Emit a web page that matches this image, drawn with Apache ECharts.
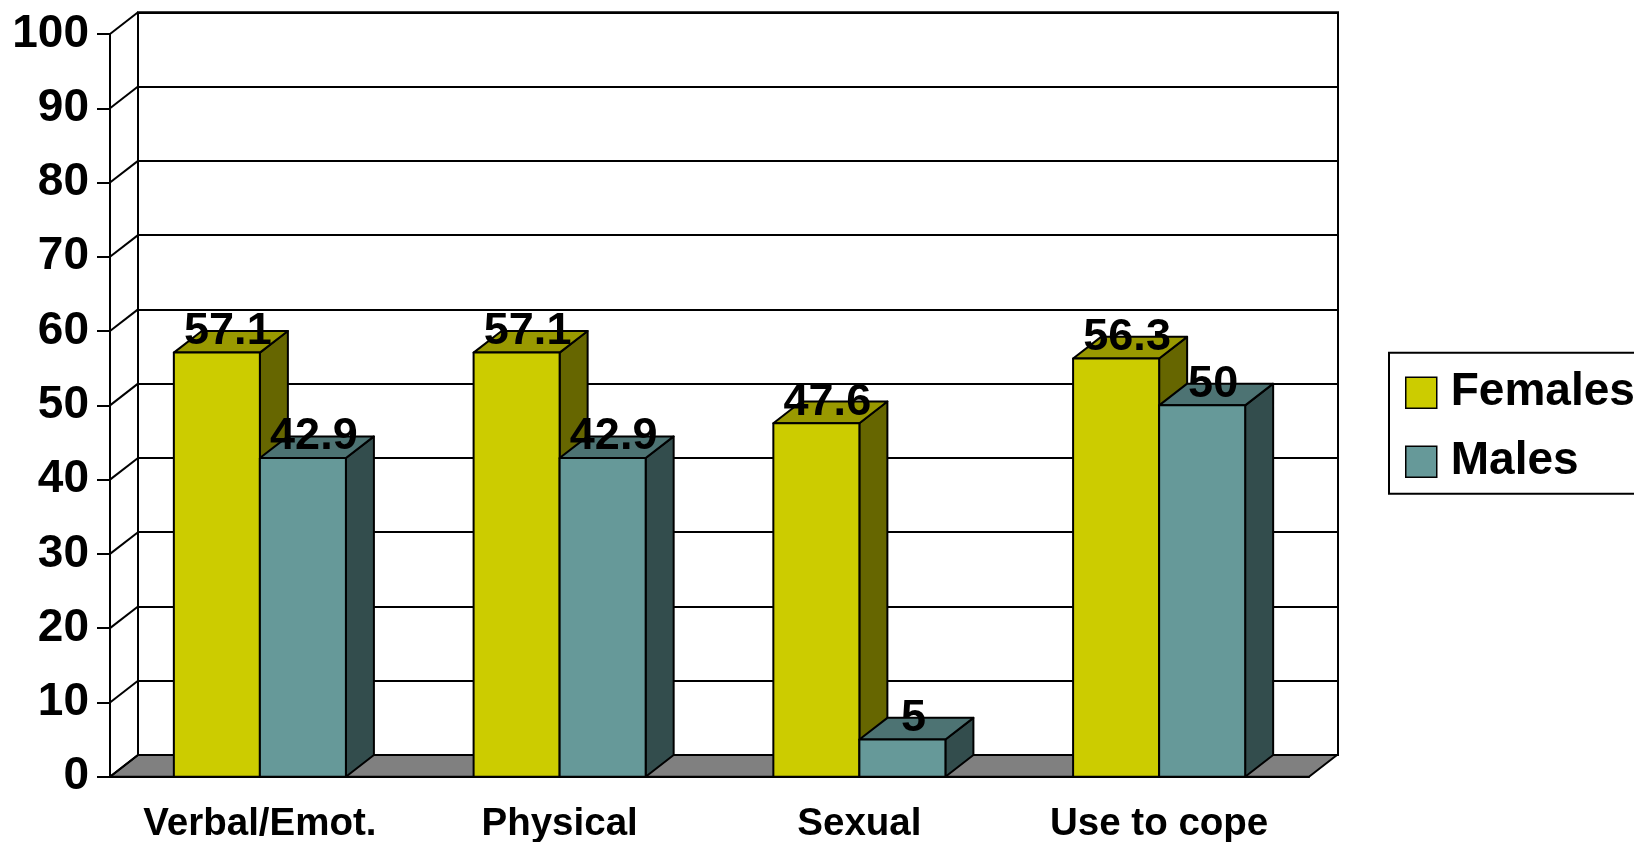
<!DOCTYPE html>
<html lang="en">
<head>
  <meta charset="UTF-8">
  <title>Females vs Males</title>
  <script src="https://cdn.jsdelivr.net/npm/echarts@6/dist/echarts.min.js"></script>
  <style>
    html, body { margin: 0; padding: 0; background: #fff; }
    #chart { width: 1634px; height: 842px; }
  </style>
</head>
<body>
  <div id="chart"></div>
  <script>
    // data
    var categories = ['Verbal/Emot.', 'Physical', 'Sexual', 'Use to cope'];
    var females = [57.1, 57.1, 47.6, 56.3];
    var males = [42.9, 42.9, 5, 50];
    var yTicks = [0, 10, 20, 30, 40, 50, 60, 70, 80, 90, 100];

    // depth offset of the fake 3D box (pixels)
    var DX = 28, DY = 21.7;
    var FONT = '"Liberation Sans", Arial, sans-serif';
    var LINE = { stroke: '#000', lineWidth: 2, lineJoin: 'round' };

    function st(fill) {
      return Object.assign({ fill: fill }, LINE);
    }

    // draws one box: front, top, side + value label
    function barRenderer(side, colors) {
      return function (params, api) {
        var idx = api.value(0);
        var val = api.value(1);
        var base = api.coord([idx, 0]);
        var top = api.coord([idx, val]);
        var band = api.size([1, 0])[0];
        var w = band * 0.287;
        var x0 = side < 0 ? base[0] - w : base[0];
        var x1 = x0 + w;
        var yb = base[1], yt = top[1];
        return {
          type: 'group',
          children: [
            { type: 'polygon', shape: { points: [[x1, yb], [x1 + DX, yb - DY], [x1 + DX, yt - DY], [x1, yt]] }, style: st(colors[2]) },
            { type: 'polygon', shape: { points: [[x0, yt], [x1, yt], [x1 + DX, yt - DY], [x0 + DX, yt - DY]] }, style: st(colors[1]) },
            { type: 'rect', shape: { x: x0, y: yt, width: w, height: yb - yt }, style: st(colors[0]) },
            { type: 'text', z2: 10, style: {
                text: String(val), x: (x0 + x1) / 2 + 11, y: yt - 21,
                align: 'center', verticalAlign: 'middle',
                font: 'bold 45px ' + FONT, fill: '#000'
            } }
          ]
        };
      };
    }

    var chart = echarts.init(document.getElementById('chart'));

    var option = {
      animation: false,
      backgroundColor: '#fff',
      grid: [
        { left: 110, right: 325, top: 34, bottom: 65.3, outerBoundsMode: 'none' },
        // back wall
        { left: 138, right: 296, top: 12.3, bottom: 87, outerBoundsMode: 'none', show: true, borderColor: '#000', borderWidth: 2 }
      ],
      xAxis: [
        {
          type: 'category', data: categories, gridIndex: 0,
          axisLine: { lineStyle: { color: '#000', width: 2 } },
          axisTick: { length: 12, interval: 0, lineStyle: { color: '#000', width: 2 } },
          axisLabel: { interval: 0, margin: 28, color: '#000', fontSize: 38.5, fontWeight: 'bold', fontFamily: FONT },
          splitLine: { show: false }
        },
        { type: 'category', data: categories, gridIndex: 1, show: false }
      ],
      yAxis: [
        {
          type: 'value', min: 0, max: 100, interval: 10, gridIndex: 0,
          axisLine: { show: true, lineStyle: { color: '#000', width: 2 } },
          axisTick: { show: true, length: 13, lineStyle: { color: '#000', width: 2 } },
          axisLabel: { margin: 21, color: '#000', fontSize: 46, fontWeight: 'bold', fontFamily: FONT },
          splitLine: { show: false }
        },
        {
          type: 'value', min: 0, max: 100, interval: 10, gridIndex: 1,
          axisLine: { show: false }, axisTick: { show: false }, axisLabel: { show: false },
          splitLine: { show: true, lineStyle: { color: '#000', width: 2 } }
        }
      ],
      legend: {
        data: ['Females', 'Males'],
        orient: 'vertical',
        left: 1389, top: 352.7,
        backgroundColor: '#fff',
        borderColor: '#000', borderWidth: 2,
        padding: [17, 16, 9, 16],
        itemWidth: 31, itemHeight: 31, itemGap: 23,
        icon: 'rect',
        selectedMode: false,
        itemStyle: { borderColor: '#000', borderWidth: 1.5 },
        textStyle: { fontSize: 46, fontWeight: 'bold', fontFamily: FONT, color: '#000', padding: [4, 0, 0, 9] }
      },
      series: [
        {
          // floor
          type: 'custom', silent: true, xAxisIndex: 0, yAxisIndex: 0,
          data: [[0, 0]], encode: { x: 0, y: 1 },
          renderItem: function (params, api) {
            var band = api.size([1, 0])[0];
            var l = api.coord([0, 0]);
            var r = api.coord([categories.length - 1, 0]);
            var xl = l[0] - band / 2, xr = r[0] + band / 2, y = l[1];
            return { type: 'polygon', shape: { points: [[xl, y], [xr, y], [xr + DX, y - DY], [xl + DX, y - DY]] }, style: st('#808080') };
          }
        },
        {
          // left wall slanted lines
          type: 'custom', silent: true, xAxisIndex: 0, yAxisIndex: 0,
          data: yTicks.map(function (v) { return [0, v]; }), encode: { x: 0, y: 1 },
          renderItem: function (params, api) {
            var band = api.size([1, 0])[0];
            var p = api.coord([0, api.value(1)]);
            var x = p[0] - band / 2;
            return { type: 'line', shape: { x1: x, y1: p[1], x2: x + DX, y2: p[1] - DY }, style: { stroke: '#000', lineWidth: 2 } };
          }
        },
        {
          name: 'Females', type: 'custom', xAxisIndex: 0, yAxisIndex: 0,
          itemStyle: { color: '#CCCC00' },
          data: females.map(function (v, i) { return [i, v]; }), encode: { x: 0, y: 1 },
          renderItem: barRenderer(-1, ['#CCCC00', '#999900', '#666600'])
        },
        {
          name: 'Males', type: 'custom', xAxisIndex: 0, yAxisIndex: 0,
          itemStyle: { color: '#669999' },
          data: males.map(function (v, i) { return [i, v]; }), encode: { x: 0, y: 1 },
          renderItem: barRenderer(1, ['#669999', '#4D7373', '#334D4D'])
        }
      ]
    };

    chart.setOption(option);
  </script>
</body>
</html>
